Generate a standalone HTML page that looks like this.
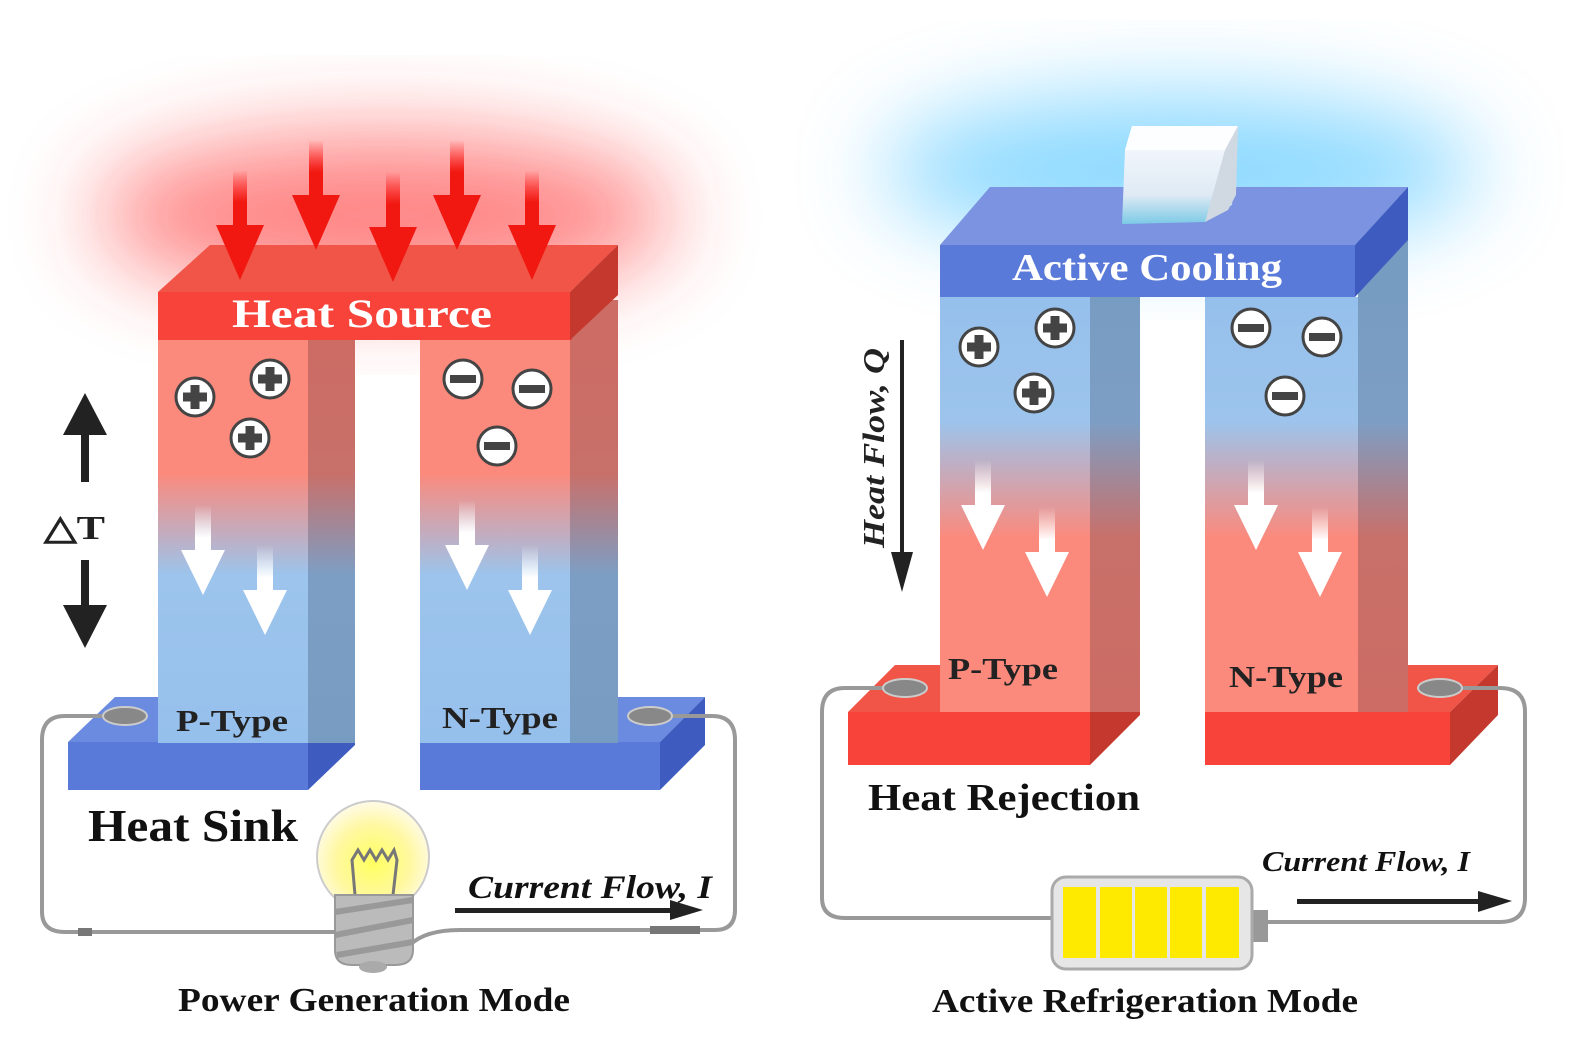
<!DOCTYPE html>
<html><head><meta charset="utf-8"><style>
html,body{margin:0;padding:0;background:#fff;}
svg{display:block;}
text{font-family:"Liberation Serif",serif;font-weight:bold;}
</style></head><body>
<svg width="1581" height="1054" viewBox="0 0 1581 1054" xmlns="http://www.w3.org/2000/svg">
<defs>
<filter id="blur" x="-50%" y="-50%" width="200%" height="200%"><feGaussianBlur stdDeviation="45"/></filter>
<linearGradient id="legA" x1="0" y1="340" x2="0" y2="745" gradientUnits="userSpaceOnUse">
<stop offset="0" stop-color="#fb8a7d"/><stop offset="0.33" stop-color="#fb8a7d"/><stop offset="0.58" stop-color="#9cc4ec"/><stop offset="1" stop-color="#96c0ec"/></linearGradient>
<linearGradient id="legAs" x1="0" y1="340" x2="0" y2="745" gradientUnits="userSpaceOnUse">
<stop offset="0" stop-color="#cc6c64"/><stop offset="0.33" stop-color="#c8706a"/><stop offset="0.58" stop-color="#7d9ec4"/><stop offset="1" stop-color="#779cc2"/></linearGradient>
<linearGradient id="legB" x1="0" y1="297" x2="0" y2="712" gradientUnits="userSpaceOnUse">
<stop offset="0" stop-color="#96c0ec"/><stop offset="0.3" stop-color="#9cc4ec"/><stop offset="0.58" stop-color="#fb8a7d"/><stop offset="1" stop-color="#fb8a7d"/></linearGradient>
<linearGradient id="legBs" x1="0" y1="297" x2="0" y2="712" gradientUnits="userSpaceOnUse">
<stop offset="0" stop-color="#779cc2"/><stop offset="0.3" stop-color="#7d9ec4"/><stop offset="0.58" stop-color="#c8706a"/><stop offset="1" stop-color="#cc6c64"/></linearGradient>
<linearGradient id="wa" x1="0" y1="0" x2="0" y2="1"><stop offset="0" stop-color="#fff" stop-opacity="0"/><stop offset="0.6" stop-color="#fff"/></linearGradient>
<linearGradient id="ra" x1="0" y1="0" x2="0" y2="1"><stop offset="0" stop-color="#f00" stop-opacity="0"/><stop offset="0.5" stop-color="#f01810"/></linearGradient>
<radialGradient id="bulb" cx="0.5" cy="0.55" r="0.55"><stop offset="0" stop-color="#ffff60"/><stop offset="0.6" stop-color="#fff8a0"/><stop offset="1" stop-color="#fffbe8"/></radialGradient>
<linearGradient id="ice" x1="0" y1="0" x2="0" y2="1"><stop offset="0" stop-color="#fafcff"/><stop offset="0.7" stop-color="#dfeaf5"/><stop offset="1" stop-color="#7ccae6"/></linearGradient>
<g id="plus"><circle r="19" fill="#fff" stroke="#444" stroke-width="3"/><rect x="-12" y="-4.5" width="24" height="9" fill="#444"/><rect x="-4.5" y="-12" width="9" height="24" fill="#444"/></g>
<g id="minus"><circle r="19" fill="#fff" stroke="#444" stroke-width="3"/><rect x="-13" y="-4" width="26" height="8" fill="#444"/></g>
<g id="warr"><rect x="-8" y="0" width="16" height="55" fill="url(#wa)"/><polygon points="-22,45 22,45 0,90" fill="#fff"/></g>
<g id="rarr"><rect x="-7" y="0" width="14" height="65" fill="url(#ra)"/><polygon points="-24,55 24,55 0,110" fill="#f01810"/></g>
</defs>

<!-- glows -->
<ellipse cx="385" cy="215" rx="290" ry="80" fill="#ff3030" opacity="0.6" filter="url(#blur)"/>
<ellipse cx="1180" cy="170" rx="300" ry="75" fill="#40c0ff" opacity="0.6" filter="url(#blur)"/>

<!-- ===== LEFT MODULE ===== -->
<polygon points="68,742 115,697 355,697 308,742" fill="#6b8be0"/>
<rect x="68" y="742" width="240" height="48" fill="#5a7ada"/>
<polygon points="308,742 355,697 355,745 308,790" fill="#3e5cc0"/>
<polygon points="420,742 467,697 705,697 660,742" fill="#6b8be0"/>
<rect x="420" y="742" width="240" height="48" fill="#5a7ada"/>
<polygon points="660,742 705,697 705,745 660,790" fill="#3e5cc0"/>
<rect x="158" y="330" width="150" height="413" fill="url(#legA)"/>
<rect x="308" y="300" width="47" height="443" fill="url(#legAs)"/>
<rect x="420" y="330" width="150" height="413" fill="url(#legA)"/>
<rect x="570" y="300" width="48" height="443" fill="url(#legAs)"/>
<polygon points="158,292 210,245 618,245 570,292" fill="#f05548"/>
<rect x="158" y="292" width="414" height="48" fill="#f8433a"/>
<polygon points="570,292 618,245 618,295 570,340" fill="#c5382e"/>
<text x="232" y="327" font-size="40" fill="#fff" textLength="260" lengthAdjust="spacingAndGlyphs">Heat Source</text>
<use href="#rarr" x="240" y="170"/>
<use href="#rarr" x="316" y="140"/>
<use href="#rarr" x="393" y="172"/>
<use href="#rarr" x="457" y="140"/>
<use href="#rarr" x="532" y="170"/>
<use href="#plus" x="195" y="397"/><use href="#plus" x="270" y="379"/><use href="#plus" x="250" y="438"/>
<use href="#minus" x="463" y="379"/><use href="#minus" x="532" y="389"/><use href="#minus" x="497" y="446"/>
<use href="#warr" x="203" y="505"/><use href="#warr" x="265" y="545"/>
<use href="#warr" x="467" y="500"/><use href="#warr" x="530" y="545"/>
<text x="176" y="731" font-size="31" fill="#222" textLength="112" lengthAdjust="spacingAndGlyphs">P-Type</text>
<text x="442" y="728" font-size="31" fill="#222" textLength="116" lengthAdjust="spacingAndGlyphs">N-Type</text>
<rect x="81" y="430" width="8" height="52" fill="#222"/><polygon points="63,435 107,435 85,393" fill="#222"/>
<rect x="81" y="560" width="8" height="52" fill="#222"/><polygon points="63,605 107,605 85,648" fill="#222"/>
<text x="44" y="539" font-size="34" fill="#222" font-weight="normal" textLength="61" lengthAdjust="spacingAndGlyphs">△T</text>
<text x="88" y="841" font-size="46" fill="#111" textLength="210" lengthAdjust="spacingAndGlyphs">Heat Sink</text>
<path d="M125,716 H65 Q42,716 42,740 V912 Q42,932 65,932 H345" fill="none" stroke="#999" stroke-width="4"/>
<rect x="78" y="928" width="14" height="8" fill="#777"/>
<path d="M375,962 Q390,965 410,945 Q425,930 460,930 H715 Q735,930 735,910 V740 Q735,716 712,716 H650" fill="none" stroke="#999" stroke-width="4"/>
<rect x="650" y="926" width="50" height="8" fill="#777"/>
<ellipse cx="125" cy="716" rx="22" ry="9" fill="#888" stroke="#ccc" stroke-width="2"/>
<ellipse cx="650" cy="716" rx="22" ry="9" fill="#888" stroke="#ccc" stroke-width="2"/>
<circle cx="373" cy="857" r="56" fill="url(#bulb)" stroke="#ccc" stroke-width="2"/>
<polyline points="355,895 352,860 358,850 364,860 370,850 376,860 382,850 388,860 394,850 397,860 393,895" fill="none" stroke="#777" stroke-width="3"/>
<path d="M335,895 H413 V950 Q413,965 395,965 H352 Q335,965 335,950 Z" fill="#bbb" stroke="#999" stroke-width="2"/>
<path d="M335,912 L413,900 M335,935 L413,920 M337,955 L413,942" stroke="#999" stroke-width="6"/>
<ellipse cx="373" cy="967" rx="14" ry="6" fill="#aaa"/>
<text x="468" y="898" font-size="33" fill="#111" font-style="italic" textLength="244" lengthAdjust="spacingAndGlyphs">Current Flow, I</text>
<rect x="455" y="908" width="220" height="5" fill="#222"/><polygon points="670,900 703,910 670,920" fill="#222"/>
<text x="178" y="1011" font-size="34" fill="#111" textLength="392" lengthAdjust="spacingAndGlyphs">Power Generation Mode</text>

<!-- ===== RIGHT MODULE ===== -->
<polygon points="848,712 895,665 1140,665 1090,712" fill="#f05548"/>
<rect x="848" y="712" width="242" height="53" fill="#f8433a"/>
<polygon points="1090,712 1140,665 1140,715 1090,765" fill="#c5382e"/>
<polygon points="1205,712 1252,665 1498,665 1450,712" fill="#f05548"/>
<rect x="1205" y="712" width="245" height="53" fill="#f8433a"/>
<polygon points="1450,712 1498,665 1498,715 1450,765" fill="#c5382e"/>
<rect x="940" y="297" width="150" height="415" fill="url(#legB)"/>
<rect x="1090" y="240" width="50" height="472" fill="url(#legBs)"/>
<rect x="1205" y="297" width="153" height="415" fill="url(#legB)"/>
<rect x="1358" y="240" width="50" height="472" fill="url(#legBs)"/>
<polygon points="940,245 990,187 1408,187 1355,245" fill="#7b93e0"/>
<rect x="940" y="245" width="415" height="52" fill="#5a7ada"/>
<polygon points="1355,245 1408,187 1408,240 1355,297" fill="#3e5cc0"/>
<!-- ice cube on top of slab -->
<polygon points="1132,126 1238,126 1232,205 1205,222 1122,224 1125,150" fill="url(#ice)"/>
<polygon points="1125,150 1132,126 1238,126 1230,140 1225,150" fill="#fdfeff"/>
<polygon points="1225,150 1238,126 1236,195 1228,210 1205,222" fill="#d0d8e2"/>
<text x="1012" y="280" font-size="38" fill="#fff" textLength="270" lengthAdjust="spacingAndGlyphs">Active Cooling</text>
<use href="#plus" x="979" y="347"/><use href="#plus" x="1055" y="328"/><use href="#plus" x="1034" y="393"/>
<use href="#minus" x="1251" y="328"/><use href="#minus" x="1322" y="337"/><use href="#minus" x="1285" y="396"/>
<use href="#warr" x="983" y="460"/><use href="#warr" x="1047" y="507"/>
<use href="#warr" x="1256" y="460"/><use href="#warr" x="1320" y="507"/>
<text x="948" y="679" font-size="31" fill="#222" textLength="110" lengthAdjust="spacingAndGlyphs">P-Type</text>
<text x="1229" y="687" font-size="31" fill="#222" textLength="114" lengthAdjust="spacingAndGlyphs">N-Type</text>
<rect x="900" y="340" width="4" height="215" fill="#222"/><polygon points="891,552 913,552 902,592" fill="#222"/>
<text transform="translate(884,548) rotate(-90)" font-size="31" fill="#222" font-style="italic" font-weight="normal" textLength="200" lengthAdjust="spacingAndGlyphs">Heat Flow, Q</text>
<text x="868" y="810" font-size="38" fill="#111" textLength="272" lengthAdjust="spacingAndGlyphs">Heat Rejection</text>
<path d="M905,688 H845 Q822,688 822,712 V898 Q822,918 845,918 H1052" fill="none" stroke="#999" stroke-width="4"/>
<path d="M1268,922 H1500 Q1525,922 1525,898 V712 Q1525,688 1500,688 H1440" fill="none" stroke="#999" stroke-width="4"/>
<ellipse cx="905" cy="688" rx="22" ry="9" fill="#888" stroke="#ccc" stroke-width="2"/>
<ellipse cx="1440" cy="688" rx="22" ry="9" fill="#888" stroke="#ccc" stroke-width="2"/>
<rect x="1253" y="910" width="15" height="32" fill="#999"/>
<rect x="1052" y="877" width="200" height="92" rx="14" fill="#e6e6e6" stroke="#aaa" stroke-width="3"/>
<rect x="1063" y="887" width="33" height="71" fill="#fdea00"/>
<rect x="1100" y="887" width="32" height="71" fill="#fdea00"/>
<rect x="1135" y="887" width="32" height="71" fill="#fdea00"/>
<rect x="1170" y="887" width="32" height="71" fill="#fdea00"/>
<rect x="1206" y="887" width="33" height="71" fill="#fdea00"/>
<text x="1262" y="871" font-size="29" fill="#111" font-style="italic" textLength="208" lengthAdjust="spacingAndGlyphs">Current Flow, I</text>
<rect x="1297" y="899" width="185" height="5" fill="#222"/><polygon points="1478,891 1512,901 1478,912" fill="#222"/>
<text x="932" y="1012" font-size="34" fill="#111" textLength="426" lengthAdjust="spacingAndGlyphs">Active Refrigeration Mode</text>
</svg>
</body></html>
